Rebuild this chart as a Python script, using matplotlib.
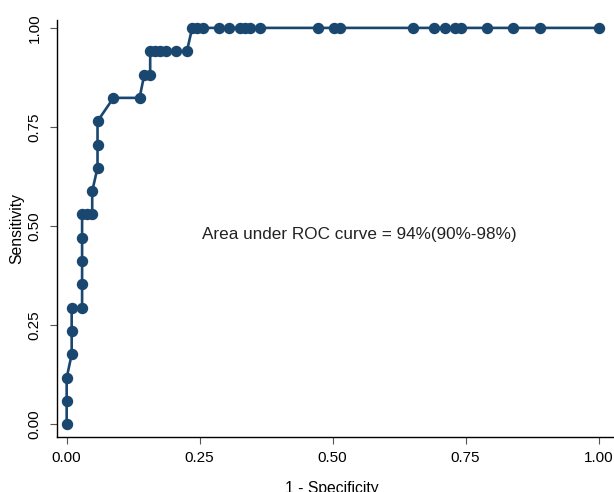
import matplotlib.pyplot as plt

plt.rcParams['font.family'] = ['Liberation Sans', 'DejaVu Sans']

# ROC points (1 - specificity, sensitivity)
fpr = [0.0, 0.0, 0.0, 0.0094, 0.0094, 0.0094, 0.029, 0.029, 0.029, 0.029,
       0.029, 0.038, 0.048, 0.048, 0.058, 0.058, 0.058, 0.088, 0.137, 0.146,
       0.157, 0.157, 0.167, 0.176, 0.187, 0.206, 0.226, 0.236, 0.245, 0.256,
       0.287, 0.306, 0.325, 0.335, 0.345, 0.364, 0.473, 0.503, 0.514, 0.652,
       0.691, 0.711, 0.731, 0.741, 0.790, 0.839, 0.889, 1.0]
tpr_counts = [0, 1, 2, 3, 4, 5, 5, 6, 7, 8,
              9, 9, 9, 10, 11, 12, 13, 14, 14, 15,
              15, 16, 16, 16, 16, 16, 16, 17, 17, 17,
              17, 17, 17, 17, 17, 17, 17, 17, 17, 17,
              17, 17, 17, 17, 17, 17, 17, 17]
n_pos = 17
tpr = [c / n_pos for c in tpr_counts]

ticks = [0.0, 0.25, 0.5, 0.75, 1.0]
tick_labels = ["0.00", "0.25", "0.50", "0.75", "1.00"]
auc_text = "Area under ROC curve = 94%(90%-98%)"

color = '#1a476f'

fig = plt.figure(figsize=(6.14, 4.92), dpi=100)
ax = fig.add_axes([0.0923, 0.1124, 0.9077, 0.847])

ax.plot(fpr, tpr, color=color, linewidth=1.9, marker='o', markersize=7.2,
        markerfacecolor=color, markeredgecolor=color, clip_on=False)

ax.text(0.55, 0.48, auc_text, ha='center', va='center', fontsize=12.3, color='#222222')

ax.set_xlim(-0.0188, 1.029)
ax.set_ylim(-0.031, 1.020)

ax.set_xticks(ticks)
ax.set_xticklabels(tick_labels, fontsize=11)
ax.set_yticks(ticks)
ax.set_yticklabels(tick_labels, fontsize=11, rotation=90, va='center')
ax.tick_params(axis='both', direction='out', length=5, width=0.8, color='#555555')
ax.tick_params(axis='x', pad=5)
ax.tick_params(axis='y', pad=6)

ax.spines['top'].set_visible(False)
ax.spines['right'].set_visible(False)
ax.spines['left'].set_linewidth(1.0)
ax.spines['bottom'].set_linewidth(1.0)

ax.set_xlabel("1 - Specificity", fontsize=11.3)
ax.set_ylabel("Sensitivity", fontsize=11.3)
ax.xaxis.set_label_coords(0.494, -0.106)
ax.yaxis.set_label_coords(-0.059, 0.50)

fig.savefig("out.png", dpi=100)
